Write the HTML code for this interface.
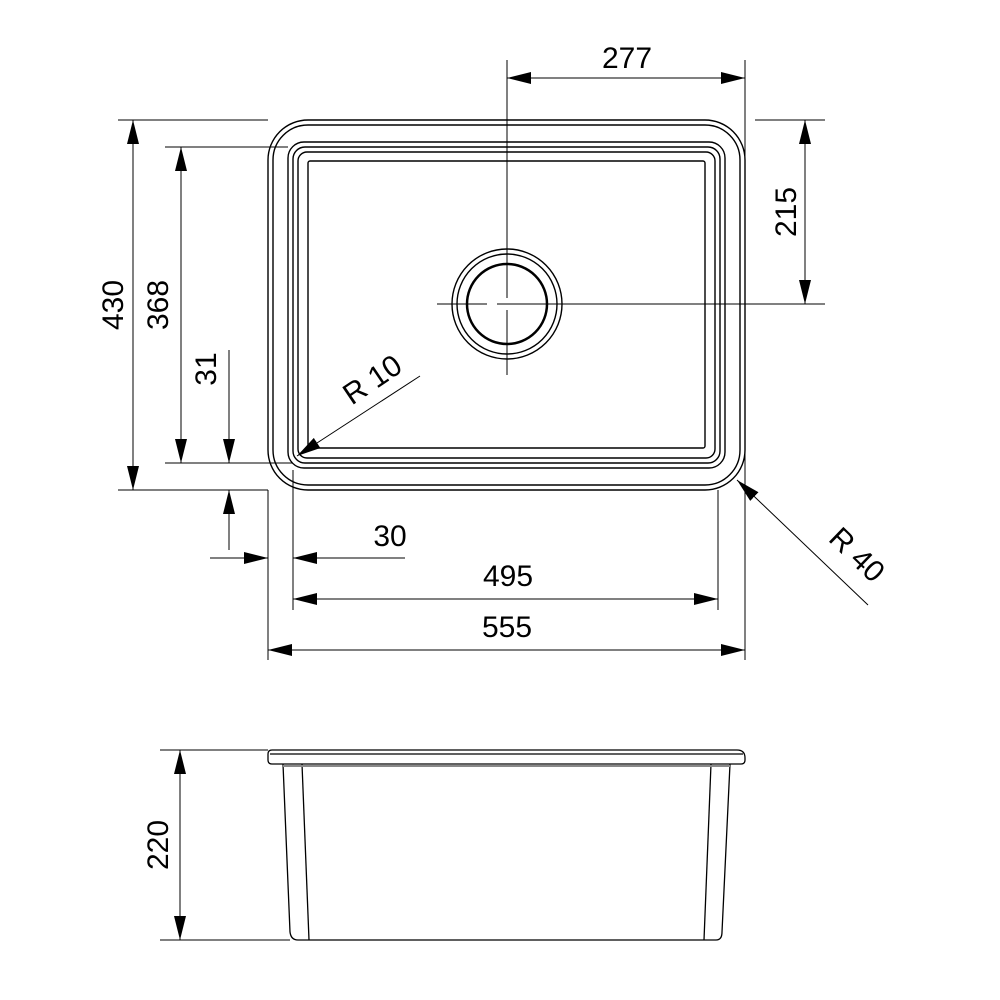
<!DOCTYPE html>
<html><head><style>html,body{margin:0;padding:0;background:#fff}svg{display:block}</style></head><body>
<svg width="1000" height="1000" viewBox="0 0 1000 1000" xmlns="http://www.w3.org/2000/svg">
<defs>
<marker id="a" viewBox="0 0 24 12" refX="24" refY="6" markerWidth="24" markerHeight="12" markerUnits="userSpaceOnUse" orient="auto-start-reverse"><path d="M0,0 L24,6 L0,12 z" fill="#000"/></marker>
</defs>
<g fill="none" stroke="#000" stroke-width="1.4">
<!-- outer rim -->
<rect x="268" y="120" width="477" height="370" rx="40"/>
<rect x="273" y="125" width="467" height="360" rx="35"/>
<!-- bowl -->
<rect x="288" y="142" width="437" height="326" rx="16"/>
<rect x="293" y="147" width="427" height="316" rx="12"/>
<rect x="298" y="152" width="417" height="306" rx="9"/>
<rect x="308" y="161" width="397" height="287" rx="2"/>
<!-- drain -->
<circle cx="507" cy="304" r="55"/>
<circle cx="507" cy="304" r="50"/>
<circle cx="507" cy="304" r="40" stroke-width="2.5"/>
</g>
<g fill="none" stroke="#000" stroke-width="1">
<!-- center lines -->
<line x1="507" y1="60" x2="507" y2="298"/>
<line x1="507" y1="310" x2="507" y2="375"/>
<line x1="437" y1="304" x2="487" y2="304"/>
<line x1="497" y1="304" x2="825" y2="304"/>
<!-- extension lines -->
<line x1="745" y1="60" x2="745" y2="660"/>
<line x1="755" y1="120" x2="825" y2="120"/>
<line x1="118" y1="120" x2="268" y2="120"/>
<line x1="118" y1="490" x2="268" y2="490"/>
<line x1="165" y1="147" x2="288" y2="147"/>
<line x1="165" y1="463" x2="293" y2="463"/>
<line x1="268" y1="490" x2="268" y2="660"/>
<line x1="293" y1="470" x2="293" y2="610"/>
<line x1="718" y1="490" x2="718" y2="610"/>
<!-- dims -->
<line x1="507" y1="78" x2="745" y2="78" marker-start="url(#a)" marker-end="url(#a)"/>
<line x1="805" y1="120" x2="805" y2="304" marker-start="url(#a)" marker-end="url(#a)"/>
<line x1="133" y1="120" x2="133" y2="490" marker-start="url(#a)" marker-end="url(#a)"/>
<line x1="181" y1="147" x2="181" y2="463" marker-start="url(#a)" marker-end="url(#a)"/>
<line x1="229" y1="350" x2="229" y2="463" marker-end="url(#a)"/>
<line x1="229" y1="550" x2="229" y2="490" marker-end="url(#a)"/>
<line x1="210" y1="558" x2="268" y2="558" marker-end="url(#a)"/>
<line x1="405" y1="558" x2="293" y2="558" marker-end="url(#a)"/>
<line x1="293" y1="599" x2="718" y2="599" marker-start="url(#a)" marker-end="url(#a)"/>
<line x1="268" y1="650" x2="745" y2="650" marker-start="url(#a)" marker-end="url(#a)"/>
<line x1="420" y1="376" x2="297" y2="456" marker-end="url(#a)"/>
<line x1="868" y1="605" x2="737" y2="480" marker-end="url(#a)"/>
<!-- side view dims -->
<line x1="160" y1="750" x2="268" y2="750"/>
<line x1="160" y1="940" x2="290" y2="940"/>
<line x1="180" y1="750" x2="180" y2="940" marker-start="url(#a)" marker-end="url(#a)"/>
</g>
<!-- side view -->
<g fill="none" stroke="#000" stroke-width="1.3">
<path d="M272,750 L737,750 Q745,750 745,758 L745,760 Q745,764 741,764 L272,764 Q268,764 268,760 L268,754 Q268,750 272,750 z"/>
<line x1="270" y1="754" x2="743" y2="754"/>
<path d="M283,764 L290,932 Q291,940 298,940 L716,940 Q722,940 722,932 L730,764"/>
<line x1="302" y1="764" x2="309" y2="940"/>
<line x1="711" y1="764" x2="704" y2="940"/>
<line x1="283" y1="766" x2="730" y2="766" stroke="#888" stroke-width="2"/>
</g>
<g font-family="Liberation Sans, sans-serif" font-size="30" fill="#000" text-anchor="middle">
<text x="627" y="68">277</text>
<text x="390" y="546">30</text>
<text x="508" y="586">495</text>
<text x="507" y="637">555</text>
<text transform="translate(796,212) rotate(-90)">215</text>
<text transform="translate(123,305) rotate(-90)">430</text>
<text transform="translate(168,305) rotate(-90)">368</text>
<text transform="translate(216,369) rotate(-90)">31</text>
<text transform="translate(168,845) rotate(-90)">220</text>
<text transform="translate(378,388) rotate(-34)">R  10</text>
<text transform="translate(850,562) rotate(44)">R  40</text>
</g>
</svg>
</body></html>
